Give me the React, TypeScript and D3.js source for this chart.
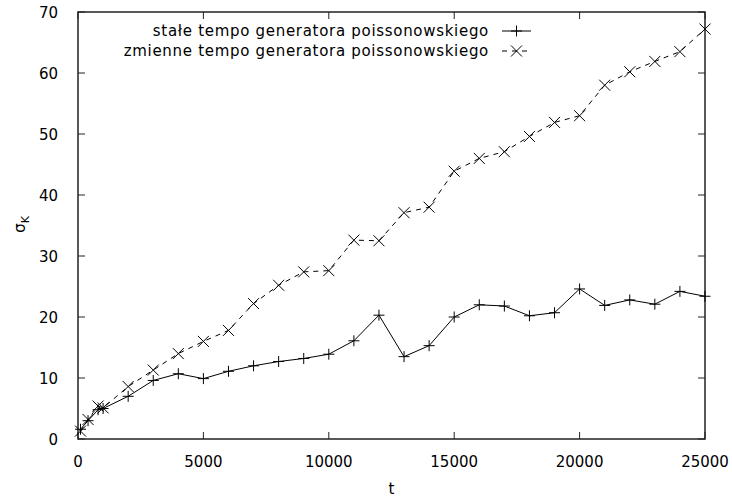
import React, { useEffect, useRef } from "react";
import * as d3 from "d3";

// time steps (t) for both series
const tValues = [
  100, 400, 800, 1000, 2000, 3000, 4000, 5000, 6000, 7000, 8000, 9000, 10000, 11000, 12000,
  13000, 14000, 15000, 16000, 17000, 18000, 19000, 20000, 21000, 22000, 23000, 24000, 25000,
];
// stałe tempo generatora poissonowskiego
const constRate = [
  1.6, 3.0, 4.8, 5.0, 7.0, 9.6, 10.7, 9.9, 11.1, 12.0, 12.7, 13.2, 13.9, 16.1, 20.3,
  13.5, 15.3, 20.0, 22.0, 21.8, 20.2, 20.7, 24.6, 21.9, 22.8, 22.1, 24.2, 23.4,
];
// zmienne tempo generatora poissonowskiego
const varRate = [
  1.3, 3.2, 5.4, 5.1, 8.6, 11.3, 14.0, 16.0, 17.8, 22.2, 25.2, 27.4, 27.6, 32.6, 32.5,
  37.1, 38.0, 43.9, 46.0, 47.1, 49.6, 51.9, 53.0, 58.0, 60.2, 61.9, 63.5, 67.2,
];
const xTicks = [0, 5000, 10000, 15000, 20000, 25000];
const yTicks = [0, 10, 20, 30, 40, 50, 60, 70];
const seriesNames = [
  "stałe tempo generatora poissonowskiego",
  "zmienne tempo generatora poissonowskiego",
];

const W = 732;
const H = 499;
const FONT = "'DejaVu Sans', Verdana, sans-serif";

const App: React.FC = () => {
  const ref = useRef<SVGSVGElement>(null);

  useEffect(() => {
    if (!ref.current) return;
    const svg = d3.select(ref.current);
    svg.selectAll("*").remove();

    const m = { left: 78, right: 705, top: 12, bottom: 439 };
    const x = d3.scaleLinear().domain([0, 25000]).range([m.left, m.right]);
    const y = d3.scaleLinear().domain([0, 70]).range([m.bottom, m.top]);
    const tick = 7;

    svg.append("rect").attr("width", W).attr("height", H).attr("fill", "#fff");

    const axes = svg.append("g").attr("stroke", "#222").attr("stroke-width", 1);

    // ticks, mirrored inward on all sides
    xTicks.forEach((t) => {
      axes.append("line").attr("x1", x(t)).attr("x2", x(t)).attr("y1", m.bottom).attr("y2", m.bottom - tick);
      axes.append("line").attr("x1", x(t)).attr("x2", x(t)).attr("y1", m.top).attr("y2", m.top + tick);
    });
    yTicks.forEach((v) => {
      axes.append("line").attr("x1", m.left).attr("x2", m.left + tick).attr("y1", y(v)).attr("y2", y(v));
      axes.append("line").attr("x1", m.right).attr("x2", m.right - tick).attr("y1", y(v)).attr("y2", y(v));
    });

    // tick labels
    const labels = svg.append("g").attr("font-family", FONT).attr("font-size", 15).attr("fill", "#000");
    xTicks.forEach((t) => {
      labels.append("text").attr("x", x(t)).attr("y", 467).attr("text-anchor", "middle").text(String(t));
    });
    yTicks.forEach((v) => {
      labels.append("text").attr("x", 58).attr("y", y(v) + 5.5).attr("text-anchor", "end").text(String(v));
    });

    // axis titles
    labels.append("text").attr("x", (m.left + m.right) / 2).attr("y", 494).attr("text-anchor", "middle").text("t");
    const yl = labels
      .append("text")
      .attr("transform", `translate(25, ${(m.top + m.bottom) / 2 - 1}) rotate(-90)`)
      .attr("text-anchor", "middle");
    yl.append("tspan").text("σ");
    yl.append("tspan").attr("font-size", 11).attr("dy", 4).text("K");

    const plus = (g: d3.Selection<SVGGElement, unknown, null, undefined>, cx: number, cy: number) => {
      const s = 5.5;
      g.append("path").attr("d", `M${cx - s},${cy}H${cx + s}M${cx},${cy - s}V${cy + s}`);
    };
    const cross = (g: d3.Selection<SVGGElement, unknown, null, undefined>, cx: number, cy: number) => {
      const s = 5.5;
      g.append("path").attr("d", `M${cx - s},${cy - s}L${cx + s},${cy + s}M${cx - s},${cy + s}L${cx + s},${cy - s}`);
    };

    const line = d3
      .line<number>()
      .x((_, i) => x(tValues[i]))
      .y((d) => y(d));

    const series = [
      { data: constRate, dash: null as string | null, marker: plus },
      { data: varRate, dash: "5,5", marker: cross },
    ];

    series.forEach((s, k) => {
      const g = svg.append("g").attr("fill", "none").attr("stroke", "#000").attr("stroke-width", 1);
      g.append("path").datum(s.data).attr("d", line).attr("stroke-dasharray", s.dash);
      const mk = svg.append("g").attr("fill", "none").attr("stroke", "#000").attr("stroke-width", 1);
      s.data.forEach((v, i) => s.marker(mk, x(tValues[i]), y(v)));

      // legend entry
      const ly = 31 + k * 20;
      labels
        .append("text")
        .attr("x", 489)
        .attr("y", ly + 5)
        .attr("text-anchor", "end")
        .attr("letter-spacing", 0.7)
        .text(seriesNames[k]);
      const lg = svg.append("g").attr("fill", "none").attr("stroke", "#000").attr("stroke-width", 1);
      lg.append("line").attr("x1", 502).attr("x2", 531).attr("y1", ly).attr("y2", ly).attr("stroke-dasharray", s.dash);
      s.marker(lg, 516.5, ly);
    });

    // border box
    axes
      .append("rect")
      .attr("x", m.left)
      .attr("y", m.top)
      .attr("width", m.right - m.left)
      .attr("height", m.bottom - m.top)
      .attr("fill", "none")
      .attr("stroke-width", 1.5);
  }, []);

  return (
    <svg
      ref={ref}
      width={W}
      height={H}
      style={{ position: "absolute", left: 0, top: 0, display: "block" }}
    />
  );
};

export default App;
